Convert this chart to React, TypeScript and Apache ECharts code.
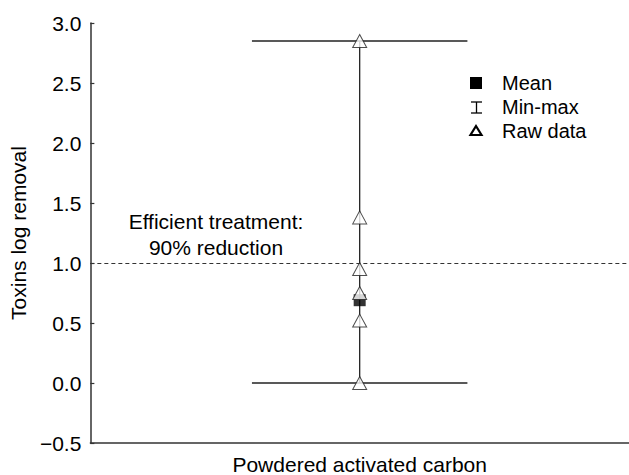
import React, { useEffect, useRef } from "react";
import * as echarts from "echarts";

const categories = ["Powdered activated carbon"];
const rawData = [2.85, 1.38, 0.95, 0.75, 0.52, 0.0];
const minMax = [0.0, 2.85];
const meanValue = [0.69];
const thresholdValue = 1.0;
const yTicks = { min: -0.5, max: 3.0, interval: 0.5 };
const legendItems = ["Mean", "Min-max", "Raw data"];
const annotationLines = ["Efficient treatment:", "90% reduction"];

const FONT = "'Liberation Sans', Arial, Helvetica, sans-serif";

export default function App() {
  const ref = useRef<HTMLDivElement>(null);
  useEffect(() => {
    if (!ref.current) return;
    const chart = echarts.init(ref.current, undefined, { renderer: "svg" });
    const option: any = {
      animation: false,
      backgroundColor: "#fff",
      textStyle: { fontFamily: FONT },
      grid: { left: 83, right: -8, top: 23, bottom: 32, containLabel: false },
      xAxis: {
        type: "category",
        data: categories,
        axisTick: { show: false },
        axisLine: { onZero: false, lineStyle: { color: "#333", width: 1.5 } },
        axisLabel: { fontSize: 21, color: "#000", margin: 11, fontFamily: FONT },
        splitLine: { show: false },
      },
      yAxis: {
        type: "value",
        min: yTicks.min,
        max: yTicks.max,
        interval: yTicks.interval,
        name: "Toxins log removal",
        nameLocation: "middle",
        nameGap: 50,
        nameTextStyle: { fontSize: 21, color: "#000", fontFamily: FONT },
        axisLine: { show: true, lineStyle: { color: "#333", width: 1.5 } },
        axisTick: { show: true, inside: true, length: 4, lineStyle: { color: "#333", width: 1.2 } },
        axisLabel: {
          fontSize: 21,
          color: "#000",
          margin: 9,
          fontFamily: FONT,
          formatter: (v: number) => (v < 0 ? "\u2212" + Math.abs(v).toFixed(1) : v.toFixed(1)),
        },
        splitLine: { show: false },
      },
      series: [
        {
          type: "custom",
          name: "Min-max",
          data: [[0, minMax[0], minMax[1]]],
          renderItem: (params: any, api: any) => {
            const x = api.value(0);
            const lo = api.coord([x, api.value(1)]);
            const hi = api.coord([x, api.value(2)]);
            const half = api.size([1, 0])[0] * 0.2;
            const style = { stroke: "#222", lineWidth: 1.3 };
            return {
              type: "group",
              children: [
                { type: "line", shape: { x1: lo[0], y1: lo[1], x2: hi[0], y2: hi[1] }, style },
                { type: "line", shape: { x1: lo[0] - half, y1: lo[1], x2: lo[0] + half, y2: lo[1] }, style },
                { type: "line", shape: { x1: hi[0] - half, y1: hi[1], x2: hi[0] + half, y2: hi[1] }, style },
              ],
            };
          },
          z: 2,
        },
        {
          type: "scatter",
          name: "Mean",
          data: meanValue.map((v) => [0, v]),
          symbol: "rect",
          symbolSize: 12,
          itemStyle: { color: "#000" },
          z: 3,
          markLine: {
            silent: true,
            symbol: "none",
            label: { show: false },
            lineStyle: { type: [4, 3], color: "#333", width: 1 },
            data: [{ yAxis: thresholdValue }],
          },
        },
        {
          type: "scatter",
          name: "Raw data",
          data: rawData.map((v) => [0, v]),
          symbol: "triangle",
          symbolSize: [14, 13],
          itemStyle: { color: "#fff", borderColor: "#222", borderWidth: 1 },
          z: 4,
        },
      ],
      graphic: [
        { type: "rect", shape: { x: 470, y: 77, width: 12, height: 12 }, style: { fill: "#000" } },
        { type: "line", shape: { x1: 471, y1: 102, x2: 482, y2: 102 }, style: { stroke: "#000", lineWidth: 1.3 } },
        { type: "line", shape: { x1: 476.5, y1: 102, x2: 476.5, y2: 113 }, style: { stroke: "#000", lineWidth: 1.3 } },
        { type: "line", shape: { x1: 471, y1: 113, x2: 482, y2: 113 }, style: { stroke: "#000", lineWidth: 1.3 } },
        {
          type: "polygon",
          shape: { points: [[476, 126], [470.5, 135], [481.5, 135]] },
          style: { fill: "#fff", stroke: "#000", lineWidth: 2.2 },
        },
        ...legendItems.map((t, i) => ({
          type: "text",
          x: 502,
          y: 83 + i * 24,
          style: { text: t, fontSize: 20, fill: "#000", fontFamily: FONT, verticalAlign: "middle", align: "left" },
        })),
        ...annotationLines.map((t, i) => ({
          type: "text",
          x: 216,
          y: 221 + i * 26,
          style: { text: t, fontSize: 21, fill: "#000", fontFamily: FONT, verticalAlign: "middle", align: "center" },
        })),
      ],
    };
    chart.setOption(option);
    return () => chart.dispose();
  }, []);
  return (
    <div
      ref={ref}
      style={{ position: "absolute", left: 0, top: 0, width: 629, height: 475 }}
    />
  );
}
